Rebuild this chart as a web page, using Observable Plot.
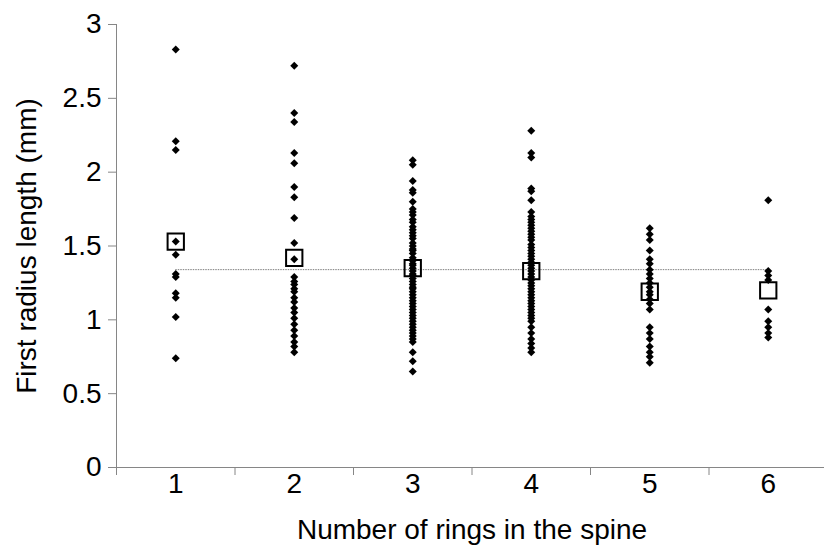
<!DOCTYPE html>
<html>
<head>
<meta charset="utf-8">
<script src="https://cdn.jsdelivr.net/npm/d3@7"></script>
<script src="https://cdn.jsdelivr.net/npm/@observablehq/plot@0.6"></script>
<style>
  html, body { margin: 0; padding: 0; background: #fff; }
  #chart svg { font-family: "Liberation Sans", Arial, sans-serif; }
</style>
</head>
<body>
<div id="chart"></div>
<script>
// ---- data ----
const categories = [1, 2, 3, 4, 5, 6];
const rings1 = [2.83, 2.21, 2.15, 1.53, 1.44, 1.31, 1.29, 1.18, 1.15, 1.02, 0.74];
const rings2 = [2.72, 2.40, 2.34, 2.13, 2.06, 1.90, 1.83, 1.69, 1.52, 1.41,
                1.29, 1.26, 1.24, 1.21, 1.19, 1.15, 1.12, 1.08, 1.05, 1.01,
                0.97, 0.93, 0.89, 0.85, 0.82, 0.78];
const rings3 = [2.08, 2.05, 1.94, 1.88, 1.86, 1.80, 1.75, 1.73, 1.71, 1.68,
                1.66, 1.63, 1.61, 1.59, 1.57, 1.55, 1.52, 1.50, 1.48, 1.47,
                1.45, 1.42, 1.40, 1.38, 1.37, 1.35, 1.33, 1.31, 1.30, 1.28,
                1.26, 1.24, 1.22, 1.21, 1.19, 1.17, 1.15, 1.13, 1.11, 1.09,
                1.07, 1.05, 1.03, 1.01, 0.99, 0.97, 0.95, 0.93, 0.91, 0.89,
                0.87, 0.85, 0.78, 0.72, 0.65];
const rings4 = [2.28, 2.13, 2.10, 1.89, 1.87, 1.81, 1.73, 1.70, 1.68, 1.66,
                1.64, 1.62, 1.60, 1.58, 1.56, 1.54, 1.51, 1.49, 1.47, 1.45,
                1.43, 1.41, 1.39, 1.37, 1.35, 1.33, 1.31, 1.29, 1.27, 1.25,
                1.23, 1.21, 1.19, 1.17, 1.15, 1.13, 1.11, 1.09, 1.07, 1.05,
                1.03, 1.01, 0.99, 0.95, 0.91, 0.87, 0.84, 0.81, 0.78];
const rings5 = [1.62, 1.58, 1.54, 1.47, 1.41, 1.38, 1.34, 1.31, 1.28, 1.25,
                1.22, 1.19, 1.17, 1.14, 1.11, 1.07, 0.95, 0.91, 0.87, 0.82,
                0.78, 0.75, 0.71];
const rings6 = [1.81, 1.33, 1.30, 1.27, 1.07, 0.99, 0.95, 0.91, 0.88];
const groupMeans = [1.53, 1.42, 1.35, 1.33, 1.19, 1.20];
const overallMean = 1.34;
const yTicks = [0, 0.5, 1, 1.5, 2, 2.5, 3];
const yTickLabels = ["0", "0.5", "1", "1.5", "2", "2.5", "3"];
const xTickLabels = ["1", "2", "3", "4", "5", "6"];
const xBoundaries = [0.5, 1.5, 2.5, 3.5, 4.5, 5.5];
const xTitle = "Number of rings in the spine";
const yTitle = "First radius length (mm)";

// ---- tables built from the arrays ----
const groups = [rings1, rings2, rings3, rings4, rings5, rings6];
const points = groups.flatMap((vals, i) => vals.map(v => ({rings: categories[i], length: v})));
const means = categories.map((c, i) => ({rings: c, length: groupMeans[i]}));

const axisGray = "#868686";
const fs = 28;

const chart = Plot.plot({
  width: 824,
  height: 558,
  marginLeft: 116,
  marginRight: -3,
  marginTop: 24,
  marginBottom: 91,
  style: {fontSize: fs + "px", fontFamily: "'Liberation Sans', Arial, sans-serif", color: "black", background: "white"},
  x: {domain: [0.5, 6.5], label: null},
  y: {domain: [0, 3], label: null},
  marks: [
    // axis lines
    Plot.ruleX([0.5], {y1: 0, y2: 3, stroke: axisGray, strokeWidth: 1}),
    Plot.ruleY([0], {x1: 0.5, x2: 6.5, stroke: axisGray, strokeWidth: 1}),
    // y axis ticks + labels
    Plot.axisY({ticks: yTicks, tickSize: 8, tickPadding: 7, stroke: axisGray, fill: "black", fontSize: fs,
                tickFormat: d => yTickLabels[yTicks.indexOf(d)], label: null}),
    // x axis category boundary ticks
    Plot.axisX({ticks: xBoundaries, tickSize: 8, stroke: axisGray, tickFormat: () => "", label: null}),
    // x axis category labels
    Plot.axisX({ticks: categories, tickSize: 0, tickPadding: 6, fill: "black", fontSize: fs,
                tickFormat: d => xTickLabels[categories.indexOf(d)], label: null}),
    // overall mean line
    Plot.ruleY([overallMean], {x1: categories[0], x2: categories[categories.length - 1],
                stroke: "#7f7f7f", strokeWidth: 1, strokeDasharray: "1.5,1"}),
    // group means
    Plot.dot(means, {x: "rings", y: "length", symbol: "square", r: 9.2, stroke: "black", strokeWidth: 2, fill: "none"}),
    // raw points
    Plot.dot(points, {x: "rings", y: "length", symbol: "diamond2", r: 3.6, fill: "black", stroke: "none"}),
    // titles
    Plot.text([xTitle], {frameAnchor: "bottom", dy: 71, fontSize: fs, fill: "black", textAnchor: "middle"}),
    Plot.text([yTitle], {frameAnchor: "left", dx: -89, rotate: -90, fontSize: fs, fill: "black", textAnchor: "middle"})
  ]
});
document.getElementById("chart").appendChild(chart);
</script>
</body>
</html>
